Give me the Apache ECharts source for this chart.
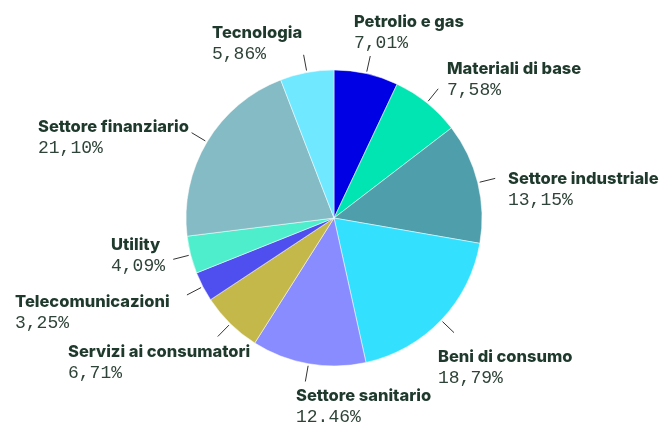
<!DOCTYPE html>
<html>
<head>
<meta charset="utf-8">
<script src="https://cdn.jsdelivr.net/npm/echarts@6/dist/echarts.min.js"></script>
<style>
  html, body { margin: 0; padding: 0; background: #fff; }
  #chart { width: 662px; height: 426px; }
</style>
</head>
<body>
<div id="chart"></div>
<script>
var categories = ['Petrolio e gas', 'Materiali di base', 'Settore industriale', 'Beni di consumo',
  'Settore sanitario', 'Servizi ai consumatori', 'Telecomunicazioni', 'Utility',
  'Settore finanziario', 'Tecnologia'];
var values = [7.01, 7.58, 13.15, 18.79, 12.46, 6.71, 3.25, 4.09, 21.10, 5.86];
var valueLabels = ['7,01%', '7,58%', '13,15%', '18,79%', '12.46%', '6,71%', '3,25%', '4,09%', '21,10%', '5,86%'];
var colors = ['#0000e5', '#00e5b2', '#4e9eab', '#33e1ff', '#898cff', '#c4b84b', '#4f4ff0', '#4eeecd', '#85bbc4', '#70e8ff'];

// top-left corner of each label block (px)
var labelPos = [[354, 12], [447, 59], [508, 169], [438, 347], [296, 386],
  [68, 342], [15, 292], [111, 235], [38, 117], [212, 23]];

var myChart = echarts.init(document.getElementById('chart'));

var data = categories.map(function (c, i) {
  return { name: c, value: values[i], itemStyle: { color: colors[i] } };
});

var option = {
  animation: false,
  series: [
    {
      type: 'pie',
      center: [334, 218],
      radius: 148,
      startAngle: 90,
      clockwise: true,
      avoidLabelOverlap: false,
      silent: true,
      itemStyle: { borderColor: '#ffffff', borderWidth: 0.5 },
      label: {
        show: true,
        position: 'outside',
        formatter: function (p) {
          return '{n|' + p.name + '}\n{v|' + valueLabels[p.dataIndex] + '}';
        },
        rich: {
          n: { fontFamily: 'Inter', fontWeight: 800, fontSize: 16.5, color: '#1f3a2d', lineHeight: 21 },
          v: { fontFamily: 'Liberation Mono', fontSize: 18, color: '#2f4438', lineHeight: 21 }
        }
      },
      labelLine: {
        show: true,
        length: 18,
        length2: 0,
        lineStyle: { color: '#333333', width: 1 }
      },
      labelLayout: function (p) {
        var pos = labelPos[p.dataIndex];
        var res = { x: pos[0], y: pos[1], align: 'left', verticalAlign: 'top' };
        var pts = p.labelLinePoints;
        if (pts && pts.length >= 2) {
          var dx = pts[1][0] - pts[0][0];
          var dy = pts[1][1] - pts[0][1];
          var len = Math.sqrt(dx * dx + dy * dy) || 1;
          var gap = 2;
          res.labelLinePoints = [
            [pts[0][0] + dx / len * gap, pts[0][1] + dy / len * gap],
            [pts[1][0], pts[1][1]]
          ];
        }
        return res;
      },
      data: data
    }
  ]
};

myChart.setOption(option);
</script>
</body>
</html>
